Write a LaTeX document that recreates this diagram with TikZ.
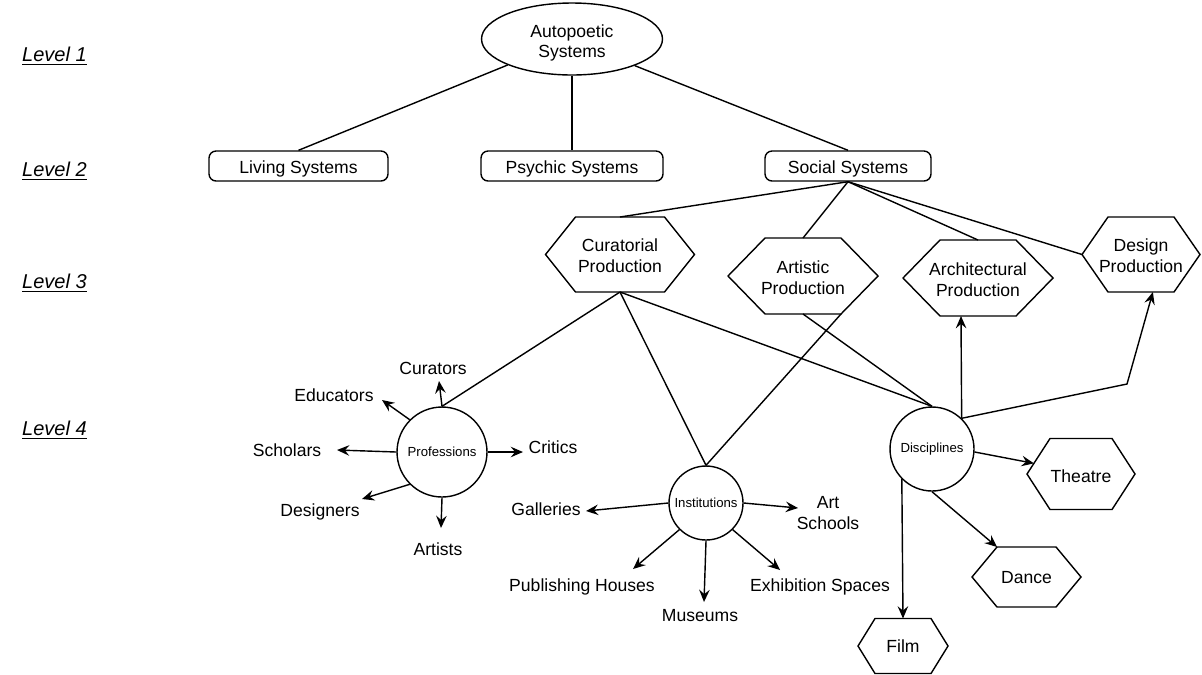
\documentclass[tikz,border=0pt]{standalone}
\usepackage{fontspec}
\setmainfont{Liberation Sans}
\usetikzlibrary{arrows.meta,calc,shapes.geometric}
\newcommand\mainf{\fontsize{10}{11.8}\selectfont}
\newcommand\smallf{\fontsize{7.5}{9}\selectfont}
\newcommand\levelf{\fontsize{11.4}{13}\selectfont\itshape}
% #1 name, #2 centre, #3 width, #4 height, #5 inset, #6 text, #7 text shift (px, down)
\newcommand\hexnode[7]{%
 \coordinate (#1-c) at (#2);
 \coordinate (#1-w) at ($(#1-c)+({-(#3)/2},0)$);
 \coordinate (#1-e) at ($(#1-c)+({(#3)/2},0)$);
 \coordinate (#1-n) at ($(#1-c)+(0,{-(#4)/2})$);
 \coordinate (#1-s) at ($(#1-c)+(0,{(#4)/2})$);
 \coordinate (#1-tl) at ($(#1-c)+({-(#3)/2+(#5)},{-(#4)/2})$);
 \coordinate (#1-tr) at ($(#1-c)+({(#3)/2-(#5)},{-(#4)/2})$);
 \coordinate (#1-bl) at ($(#1-c)+({-(#3)/2+(#5)},{(#4)/2})$);
 \coordinate (#1-br) at ($(#1-c)+({(#3)/2-(#5)},{(#4)/2})$);
 \draw[hexline] (#1-w) -- (#1-tl) -- (#1-tr) -- (#1-e) -- (#1-br) -- (#1-bl) -- cycle;
 \node[hexlabel] (#1) at ($(#1-c)+(0,#7)$) {#6};
}
\begin{document}
\begin{tikzpicture}[x=0.02cm,y=-0.02cm, line width=0.8pt,
  sysbox/.style={draw, rounded corners=4pt, minimum height=0.6cm, inner sep=0, font=\mainf, text depth=0pt, text height=8.3pt},
  hexlabel/.style={inner sep=0, align=center, font=\mainf},
  hexline/.style={draw, line join=miter},
  circnode/.style={draw, circle, inner sep=0, font=\smallf},
  lbl/.style={inner sep=0, align=center, font=\mainf},
  lvl/.style={inner sep=0, font=\levelf},
  arr/.style={-{Stealth[length=7pt,width=6pt,inset=2.5pt]}}]
\useasboundingbox (0,0) rectangle (1202,674);

% level labels
\node[lvl] (l1) at (54.5,56.5) {\underline{Level 1}};
\node[lvl] (l2) at (54.5,171.5) {\underline{Level 2}};
\node[lvl] (l3) at (54.5,283.5) {\underline{Level 3}};
\node[lvl] (l4) at (54.5,430.5) {\underline{Level 4}};

% level 1
\node[draw, ellipse, minimum width=3.62cm, minimum height=1.44cm, inner sep=0, align=center, font=\mainf, text depth=0pt, text height=21.5pt] (auto) at (572,39) {Autopoetic\\Systems};

% level 2
\node[sysbox, minimum width=3.58cm] (living) at (298.5,166) {Living Systems};
\node[sysbox, minimum width=3.64cm] (psychic) at (572,166) {Psychic Systems};
\node[sysbox, minimum width=3.32cm] (social) at (848,166) {Social Systems};

\draw (auto.202.6) -- (living.north);
\draw (auto.south) -- (psychic.north);
\draw (auto.-23) -- (social.north);

% level 3
\hexnode{cur}{620,254.5}{149}{75}{30}{Curatorial\\Production}{1}
\hexnode{art}{803,276}{150}{76}{37}{Artistic\\Production}{2}
\hexnode{arch}{978,278}{150}{76}{37}{Architectural\\Production}{1.5}
\hexnode{des}{1141,254.5}{118}{75}{26}{Design\\Production}{1}

\draw (social.south) -- (cur-n);
\draw (social.south) -- (art-n);
\draw (social.south) -- (arch-n);
\draw (social.south) -- (des-w);

% level 4
\node[circnode, minimum size=1.8cm] (prof) at (442,452) {Professions};
\node[circnode, minimum size=1.48cm] (inst) at (706,503) {Institutions};
\node[circnode, minimum size=1.68cm] (disc) at (932,449) {Disciplines};

\hexnode{thea}{1081,474}{108}{71}{23}{Theatre}{2}
\hexnode{dance}{1026.5,577}{109}{60}{25}{Dance}{1}
\hexnode{film}{903,646}{90}{55}{17}{Film}{0}

\draw (cur-s) -- (prof.north);
\draw (cur-s) -- (inst.north);
\draw (cur-s) -- (disc.north);
\draw (art-s) -- (disc.north);
\draw (art-br) -- (inst.north);

\coordinate (archin) at ($(arch-bl)!0.276!(arch-br)$);
\coordinate (desin) at ($(des-bl)!0.68!(des-br)$);
\coordinate (bend) at (1127,384);
\coordinate (theain) at ($(thea-w)!0.3!(thea-tl)$);
\draw[arr] (disc.46) -- (archin);
\draw[arr] (disc.46) -- (bend) -- (desin);
\draw[arr] (disc.-4) -- (theain);
\draw[arr] (disc.south) -- (dance-tl);
\draw[arr] (disc.225) -- (film-n);

% professions
\node[lbl] (curators) at (433,368) {Curators};
\node[lbl] (educators) at (334,395) {Educators};
\node[lbl] (scholars) at (287,450) {Scholars};
\node[lbl] (critics) at (553,447) {Critics};
\node[lbl] (designers) at (320,512) {Designers};
\node[lbl] (artists) at (438,549) {Artists};
\coordinate (tcur) at (439,381);
\coordinate (tedu) at (382,400);
\coordinate (tsch) at (337,450);
\coordinate (tcri) at (523,452);
\coordinate (tdes) at (362,499);
\coordinate (tart) at (441,528);
\draw[arr] (prof.north) -- (tcur);
\draw[arr] (prof.135) -- (tedu);
\draw[arr] (prof.west) -- (tsch);
\draw[arr] (prof.east) -- (tcri);
\draw[arr] (prof.225) -- (tdes);
\draw[arr] (prof.south) -- (tart);

% institutions
\node[lbl] (galleries) at (546,509) {Galleries};
\node[lbl] (artschools) at (828,513) {Art\\Schools};
\node[lbl] (publishing) at (582,587) {Publishing Houses};
\node[lbl] (museums) at (700,616) {Museums};
\node[lbl] (exhibition) at (820,587) {Exhibition Spaces};
\coordinate (tgal) at (586,511);
\coordinate (tas) at (798,508);
\coordinate (tpub) at (633,569);
\coordinate (tmus) at (704,602);
\coordinate (texh) at (780,570);
\draw[arr] (inst.west) -- (tgal);
\draw[arr] (inst.east) -- (tas);
\draw[arr] (inst.225) -- (tpub);
\draw[arr] (inst.south) -- (tmus);
\draw[arr] (inst.-45) -- (texh);
\end{tikzpicture}
\end{document}
